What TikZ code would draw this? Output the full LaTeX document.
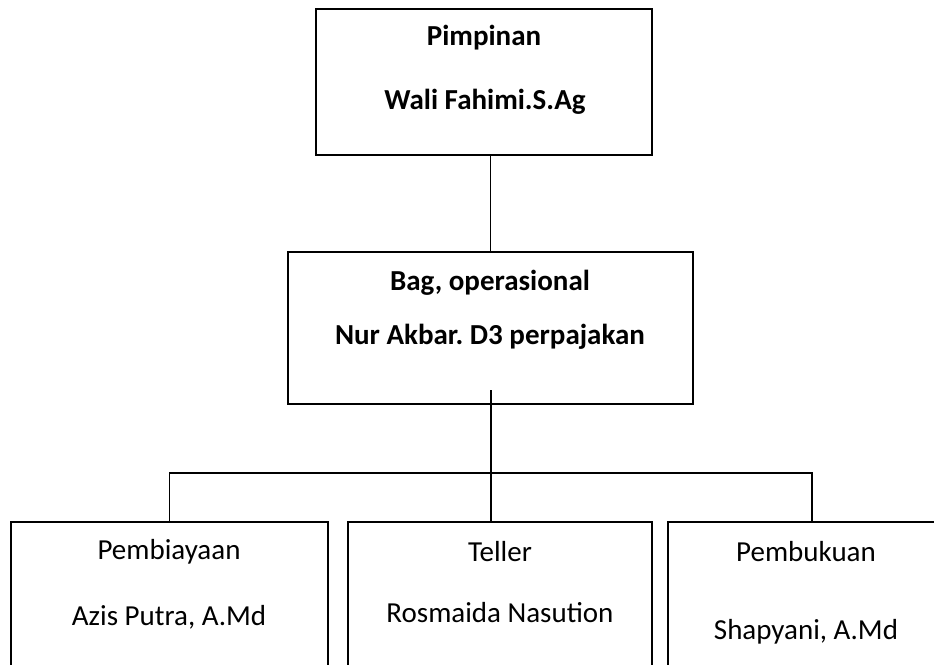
\documentclass[tikz,border=0pt]{standalone}
\usepackage{fontspec}
\setmainfont{Carlito}
\frenchspacing
\usetikzlibrary{positioning}
\tikzstyle{org_box} = [
    rectangle,
    draw=black,
    line width=1.1pt,
    inner sep=0pt,
    outer sep=0pt
]
\tikzstyle{head_text} = [
    font=\fontsize{21.75}{26}\selectfont\bfseries,
    inner sep=0pt
]
\tikzstyle{staff_text} = [
    font=\fontsize{21.75}{26}\selectfont,
    inner sep=0pt
]

\begin{document}
\begin{tikzpicture}[
    x=0.75pt, y=-0.75pt, % one unit is one pixel of the page
    line width=1.1pt
]
\useasboundingbox (0,0) rectangle (934,664);
\clip (0,0) rectangle (934,664);

% boxes
\node [org_box, minimum width=252pt, minimum height=109.5pt] (pimpinan) at (484,82) {};
\node [org_box, minimum width=303.75pt, minimum height=114pt] (operasional) at (490.5,328) {};
\node [org_box, minimum width=237.75pt, minimum height=133.5pt] (pembiayaan) at (169.5,611) {};
\node [org_box, minimum width=228pt, minimum height=133.5pt] (teller) at (500,611) {};
\node [org_box, minimum width=216pt, minimum height=133.5pt] (pembukuan) at (812,611) {};

% texts
\node [head_text] (pimpinan_title) at (484,38) {Pimpinan};
\node [head_text] (pimpinan_name) at (485,102) {Wali Fahimi.S.Ag};
\node [head_text] (operasional_title) at (490,283) {Bag, operasional};
\node [head_text] (operasional_name) at (490,337) {Nur Akbar. D3 perpajakan};
\node [staff_text] (pembiayaan_title) at (169,552) {Pembiayaan};
\node [staff_text] (pembiayaan_name) at (169,617) {Azis Putra, A.Md};
\node [staff_text] (teller_title) at (500,552) {Teller};
\node [staff_text] (teller_name) at (500,613) {Rosmaida Nasution};
\node [staff_text] (pembukuan_title) at (806,552) {Pembukuan};
\node [staff_text] (pembukuan_name) at (806,632) {Shapyani, A.Md};

% connectors
\coordinate (split) at (491,473);
\draw (operasional.north) -- (operasional.north |- pimpinan.south);
\draw ([yshift=10.5pt]operasional.south -| split) -- (split);
\draw (pembiayaan.north) |- (split) -| (pembukuan.north);
\draw (split) -- (split |- teller.north);
\end{tikzpicture}
\end{document}
